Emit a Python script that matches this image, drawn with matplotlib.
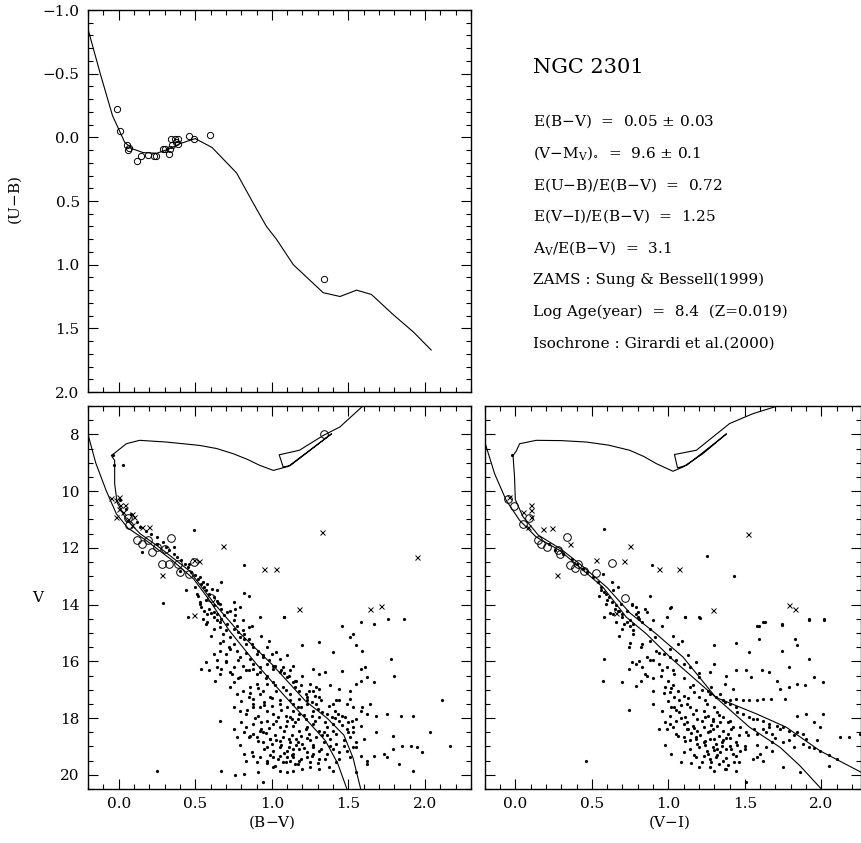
import matplotlib
matplotlib.use("Agg")
import matplotlib.pyplot as plt
from matplotlib.ticker import MultipleLocator

plt.rcParams["font.family"] = ["DejaVu Serif"]
plt.rcParams["mathtext.fontset"] = "dejavuserif"

# ---- two-colour diagram -------------------------------------------------
ub_line_bv = [-0.20, -0.12, -0.04, 0.04, 0.09, 0.16, 0.25, 0.33, 0.40, 0.50, 0.61,
              0.77, 0.88, 0.965, 1.03, 1.14, 1.335, 1.445, 1.553, 1.65, 1.79, 1.925, 2.04]
ub_line_ub = [-0.85, -0.50, -0.17, 0.04, 0.09, 0.12, 0.125, 0.09, 0.05, 0.01, 0.08,
              0.28, 0.52, 0.70, 0.80, 1.00, 1.22, 1.25, 1.20, 1.234, 1.39, 1.53, 1.67]
ub_star_bv = [-0.01, 0.007, 0.057, 0.067, 0.06, 0.12, 0.148, 0.19, 0.23, 0.246, 0.29,
              0.305, 0.33, 0.333, 0.34, 0.35, 0.366, 0.377, 0.388, 0.39, 0.462, 0.49,
              0.595, 1.342]
ub_star_ub = [-0.22, -0.05, 0.06, 0.08, 0.10, 0.185, 0.15, 0.14, 0.15, 0.15, 0.09,
              0.09, 0.13, 0.09, 0.016, 0.06, 0.01, 0.036, 0.01, 0.05, -0.01, 0.016,
              -0.016, 1.11]

# ---- V vs (B-V) ----------------------------------------------------------
zams_bv = [-0.20, -0.15, -0.08, -0.015, 0.06, 0.18, 0.35, 0.49, 0.60, 0.72, 0.90,
           1.08, 1.25, 1.35, 1.43, 1.49]
zams_bv_v = [8.0, 9.0, 10.0, 10.8, 11.3, 11.74, 12.44, 13.1, 13.9, 14.9, 16.1,
             17.2, 18.2, 18.8, 19.6, 20.5]
iso_bv = [1.58, 1.53, 1.47, 1.36, 1.22, 1.00, 0.79, 0.63, 0.46, 0.27, 0.14, 0.05,
          -0.01, -0.026, -0.026, -0.048, -0.026, 0.05, 0.137, 0.31, 0.53, 0.64, 0.747,
          0.84, 0.92, 1.01, 1.107, 1.39, 1.12, 1.074, 1.048, 1.18, 1.335, 1.444, 1.586,
          1.62]
iso_bv_v = [20.5, 19.4, 18.6, 18.0, 17.4, 16.1, 15.0, 14.0, 12.8, 12.0, 11.5, 11.0,
            10.4, 9.74, 8.92, 8.74, 8.66, 8.33, 8.21, 8.27, 8.39, 8.50, 8.68,
            8.88, 9.09, 9.27, 9.13, 7.98, 9.10, 9.15, 8.72, 8.56, 8.04, 7.74, 7.04, 6.9]

bv_circ = [0.06, 0.07, 0.12, 0.15, 0.19, 0.25, 0.22, 0.30, 0.34, 0.28, 0.33, 0.39,
           0.40, 0.49, 0.46, 0.60, 1.34]
bv_circ_v = [10.95, 11.19, 11.74, 11.86, 11.74, 11.97, 12.13, 12.03, 11.64, 12.56,
             12.56, 12.56, 12.86, 12.50, 12.91, 13.76, 7.97]
bv_cross = [-0.05, -0.02, 0.00, 0.01, 0.04, 0.00, 0.03, -0.02, 0.06, 0.09, 0.10, 0.09,
            0.15, 0.20, 0.28, 0.49, 0.525, 0.68, 0.95, 1.03, 1.18, 1.64, 1.71, 0.49,
            1.33, 1.95]
bv_cross_v = [10.25, 10.3, 10.2, 10.5, 10.5, 10.62, 10.72, 10.9, 11.0, 10.8, 10.9,
              11.2, 11.27, 11.27, 12.94, 12.44, 12.48, 11.92, 12.76, 12.76, 14.17,
              14.17, 14.06, 14.38, 11.45, 12.33]

bv_dot = [
    -0.04, -0.03, 0.03, 0.01, 0.05, 0.08, 0.12, 0.14, 0.18, 0.21, 0.25, 0.29, 0.31,
    0.33, 0.36, 0.38, 0.41, 0.43, 0.45, 0.47, 0.50, 0.52, 0.54, 0.56, 0.57, 0.59,
    0.62, 0.64, 0.66, 0.15, 0.49, 0.44, 0.50, 0.51, 0.64, 0.67, 0.75, 0.82, 0.85,
    0.82, 0.29, 1.08, 0.53, 0.62, 0.53, 0.55, 0.58, 0.61, 0.46, 0.36, 0.25, 0.40,
    0.45, 0.54, 0.56, 0.58, 0.55, 0.62, 0.64, 0.57, 0.66, 0.70, 0.75, 0.79, 0.76,
    0.73, 0.67, 0.62, 0.65, 0.69, 0.77, 0.81, 0.85, 0.82, 0.92, 1.08, 1.46, 1.53,
    1.58, 1.67, 1.76, 1.86,
    0.54, 0.62, 0.64, 0.66, 0.68, 0.70, 0.73, 0.75, 0.79, 0.77, 0.83, 0.88, 0.90,
    0.86, 0.94, 0.97, 1.00, 1.03, 1.05, 0.97, 0.92, 0.88, 0.81, 0.75, 0.70, 0.64,
    0.79, 0.85, 0.73, 1.10, 1.20, 1.31, 1.40, 1.51, 1.55, 1.59, 1.78, 1.01, 1.07,
    1.14, 1.58, 1.61, 0.57, 0.59, 0.67,
    0.63, 0.66, 0.73, 0.75, 0.79, 0.83, 0.88, 0.92, 0.97, 1.01, 1.05, 1.10, 1.12,
    1.16, 1.20, 1.25, 1.29, 1.31, 1.35, 1.27, 0.73, 0.77, 0.81, 0.86, 0.90, 0.94,
    0.99, 1.03, 1.07, 1.12, 1.18, 1.23, 1.27, 1.31, 0.85, 0.88, 0.92, 0.97, 1.01,
    1.38, 1.44, 1.51, 1.55, 1.58, 1.62, 1.67, 1.46, 1.12, 1.18, 1.23, 1.31, 1.05,
    1.14, 1.80,
    0.66, 0.75, 0.79, 0.83, 0.88, 0.92, 0.97, 1.01, 1.05, 1.10, 1.14, 1.18, 1.23,
    1.27, 1.31, 1.36, 1.40, 1.44, 1.49, 1.53, 1.58, 0.83, 0.88, 0.92, 0.97, 1.01,
    1.05, 1.10, 1.14, 1.18, 1.23, 1.27, 1.31, 1.36, 1.40, 1.44, 1.49, 1.53, 1.58,
    0.77, 0.82, 0.88, 0.94, 1.62, 1.68, 1.75, 1.84, 1.92, 1.79, 1.68, 1.64, 1.59,
    1.51, 1.42, 0.91, 0.95, 1.00, 1.04, 1.09, 1.13, 1.17, 1.22, 1.26, 1.30, 1.35,
    1.39, 1.43, 1.48, 1.52, 1.55, 1.40, 1.34,
    0.90, 0.94, 0.99, 1.03, 1.07, 1.12, 1.16, 1.20, 1.25, 1.29, 1.34, 1.38, 1.42,
    1.47, 1.51, 1.55, 1.60, 0.97, 1.01, 1.05, 1.10, 1.14, 1.18, 1.23, 1.27, 1.31,
    1.36, 1.40, 1.44, 1.49, 1.53, 1.14, 1.18, 1.23, 1.27, 1.31, 1.10, 1.05, 1.01,
    0.97, 0.92, 0.88, 0.83, 1.42, 1.51, 1.58, 1.62, 1.07, 1.12, 1.17, 1.25, 1.31,
    1.37, 1.40, 1.55, 1.62, 1.67, 1.73, 1.79, 1.85, 1.91, 1.95, 1.98, 2.16, 2.03,
    2.11, 1.92, 1.83, 1.75, 1.10, 1.14, 1.05, 1.01, 0.94, 0.91, 0.82, 0.67, 0.76,
    0.25, 0.85,
    0.53, 0.59, 0.64, 0.67, 0.71, 0.75, 0.78, 0.82, 0.87, 0.91, 0.94, 0.98, 1.02,
    1.06, 1.11, 1.15, 1.19, 1.24, 1.28, 1.32, 1.37, 1.41, 1.46, 1.50, 1.53, 1.55]
bv_dot_v = [
    8.72, 9.09, 9.09, 10.33, 10.62, 10.80, 11.09, 11.27, 11.39, 11.50, 11.62, 11.80,
    11.97, 12.09, 12.21, 12.33, 12.44, 12.56, 12.68, 12.86, 12.97, 13.09, 13.27,
    13.39, 13.50, 13.62, 13.74, 13.86, 13.97, 12.15, 11.36, 13.50, 13.39, 13.62,
    13.50, 13.21, 13.91, 13.60, 13.71, 12.60, 13.94, 14.44, 13.97, 14.27, 13.03,
    13.21, 13.27, 13.44, 12.56, 11.97, 11.86, 12.80,
    14.42, 14.09, 14.21, 14.33, 14.50, 14.44, 14.56, 14.68, 14.80, 14.91, 14.56,
    14.09, 14.38, 14.21, 14.15, 14.03, 13.95, 14.38, 14.74, 14.91, 14.80, 15.03,
    14.42, 14.42, 14.74, 15.03, 14.62, 14.68, 14.50, 14.50,
    16.27, 15.74, 15.97, 15.62, 15.27, 15.74, 15.15, 15.38, 15.85, 15.62, 15.38,
    15.50, 15.74, 15.91, 15.79, 15.50, 15.74, 15.68, 15.91, 16.09, 16.21, 16.09,
    16.15, 16.21, 16.03, 16.21, 15.15, 15.21, 15.56, 15.79, 15.44, 15.33, 15.68,
    15.15, 15.44, 15.62, 15.91, 16.15, 16.21, 16.15, 16.27, 16.21, 16.03, 16.32,
    16.27,
    16.68, 16.44, 16.38, 16.74, 16.56, 16.32, 16.27, 16.38, 16.50, 16.27, 16.38,
    16.56, 16.32, 16.68, 16.50, 16.79, 16.91, 16.44, 16.38, 16.27, 16.91, 17.15,
    17.03, 16.91, 16.79, 17.03, 17.26, 17.03, 16.91, 17.15, 17.03, 17.26, 17.03,
    16.97, 17.26, 17.32, 17.15, 16.79, 16.74, 16.85, 16.97, 17.03, 16.79, 16.68,
    16.56, 16.74, 16.35, 17.38, 17.32, 17.38, 17.26, 17.38, 16.74, 16.50,
    18.09, 17.62, 17.74, 17.85, 17.50, 17.62, 17.74, 17.85, 17.50, 17.62, 17.74,
    17.85, 17.50, 17.74, 17.97, 17.85, 17.50, 17.38, 17.50, 17.62, 17.74, 18.32,
    18.21, 18.44, 18.09, 18.21, 18.32, 18.09, 18.27, 18.44, 18.32, 18.21, 18.44,
    18.32, 18.21, 18.09, 18.38, 18.32, 18.27, 18.68, 18.50, 18.56, 18.50, 17.85,
    17.91, 17.85, 17.91, 17.91, 18.62, 18.50, 17.50, 17.62, 17.32, 17.38, 17.91,
    17.44, 17.56, 17.97, 17.91, 18.03, 17.62, 18.03, 17.91, 17.68, 18.15, 17.97,
    17.85, 17.97, 18.09, 18.03, 18.44, 18.50,
    18.68, 18.85, 18.74, 18.79, 18.68, 18.85, 18.74, 18.91, 18.79, 18.68, 18.85,
    18.74, 18.91, 18.79, 18.68, 18.85, 18.74, 19.03, 19.15, 19.03, 19.15, 19.26,
    19.09, 19.21, 19.03, 19.15, 19.26, 19.09, 19.21, 19.15, 19.03, 19.38, 19.50,
    19.38, 19.26, 19.44, 19.38, 19.32, 19.38, 19.50, 19.38, 19.32, 19.50, 19.56,
    19.38, 19.32, 19.50, 19.56, 19.50, 19.62, 19.73, 19.79, 19.73, 19.85, 19.91,
    19.62, 19.32, 19.26, 19.09, 18.97, 18.97, 19.03, 19.21, 18.97, 18.50, 17.38,
    19.85, 19.62, 19.38, 19.91, 19.85, 19.85, 19.73, 20.27, 19.91, 19.97, 19.88,
    19.99, 19.88, 18.68,
    13.91, 14.15, 14.33, 14.50, 14.68, 14.86, 14.97, 15.21, 15.38, 15.62, 15.85,
    15.97, 16.15, 16.32, 16.50, 16.68, 16.85, 17.03, 17.21, 17.38, 17.56, 17.74,
    17.91, 18.15, 18.50, 19.03]

# extra faint stars in the crowded part of the (B-V) diagram
bv_core = [0.96, 1.02, 1.08, 1.13, 1.19, 1.24, 1.06, 1.11, 1.16, 1.21, 1.00, 0.95,
           1.08, 1.13, 1.19, 1.04, 0.99, 1.26, 1.22, 1.15, 1.09, 1.03, 0.98, 0.93,
           0.89, 0.86, 0.91, 0.87, 0.84, 0.80, 0.86, 0.91, 0.95, 1.00, 1.06, 1.12,
           1.17, 1.21, 1.28, 1.33, 1.38, 1.35, 1.30, 1.44, 1.47, 1.50, 0.78, 0.74,
           0.70, 0.72, 0.68, 0.62, 0.58, 0.66, 0.83, 0.90, 0.96, 1.02, 1.09, 1.14,
           1.19, 1.26, 1.33, 1.41, 1.46, 0.97, 1.02, 1.15, 1.20, 1.25, 0.90, 0.82,
           0.79, 0.75, 0.80, 1.11, 1.05, 0.99, 1.17, 1.23, 1.27, 1.32, 1.36, 1.42,
           1.14, 1.09, 0.93, 0.88, 1.08, 1.15, 1.22, 1.29, 0.85, 0.78, 0.66, 0.60,
           0.71, 0.76, 0.81, 0.87, 0.93, 0.98, 0.60, 0.57, 0.52]
bv_core_v = [18.52, 18.61, 18.47, 18.58, 18.63, 18.55, 18.95, 19.02, 18.96, 19.07,
             18.90, 19.10, 19.22, 19.30, 19.44, 19.45, 19.30, 19.35, 18.40, 18.15,
             18.27, 18.12, 18.35, 18.15, 17.98, 18.62, 18.80, 19.20, 17.70, 17.40,
             17.10, 16.95, 17.55, 17.30, 17.70, 17.95, 18.05, 17.90, 18.10, 18.60,
             19.00, 19.45, 19.60, 19.45, 19.00, 18.50, 16.60, 16.45, 16.00, 15.50,
             15.05, 14.85, 14.60, 14.62, 15.70, 16.45, 16.60, 16.85, 17.00, 17.50,
             17.60, 17.45, 17.80, 18.00, 18.25, 19.60, 19.70, 19.62, 19.80, 19.55,
             19.55, 19.25, 18.95, 18.40, 18.15, 18.75, 18.80, 18.75, 18.85, 18.70,
             18.95, 19.10, 18.60, 18.55, 19.10, 19.55, 18.40, 17.60, 16.40, 16.90,
             17.15, 17.50, 16.30, 15.95, 15.35, 15.10, 14.25, 14.15, 14.55, 14.75,
             15.10, 15.30, 14.30, 13.85, 13.70]

# ---- V vs (V-I) ----------------------------------------------------------
zams_vi = [-0.203, -0.135, -0.059, 0.028, 0.137, 0.29, 0.42, 0.573, 0.725, 0.856,
           1.02, 1.31, 1.53, 1.73, 1.86, 2.0]
zams_vi_v = [8.21, 9.39, 10.33, 11.03, 11.62, 12.09, 12.68, 13.39, 14.44, 15.03,
             15.9, 17.27, 18.32, 19.03, 19.68, 20.5]
iso_vi = [2.26, 1.99, 1.77, 1.575, 1.31, 1.096, 0.92, 0.75, 0.60, 0.44, 0.30, 0.15,
          0.05, 0.0, -0.005, -0.015, 0.005, 0.028, 0.137, 0.30, 0.464, 0.61, 0.747,
          0.84, 0.921, 1.03, 1.096, 1.226, 1.38, 1.12, 1.06, 1.04, 1.183, 1.40, 1.553,
          1.69, 1.74]
iso_vi_v = [19.91, 19.15, 18.32, 17.85, 17.27, 15.85, 15.03, 14.3, 13.4, 12.65,
            12.05, 11.55, 10.9, 10.3, 9.5, 8.74, 8.6, 8.33, 8.21, 8.22, 8.27, 8.38,
            8.56, 8.78, 9.03, 9.30, 9.15, 8.68, 7.98, 9.09, 9.18, 8.71, 8.56, 7.62,
            7.27, 7.04, 6.9]

vi_circ = [-0.05, -0.01, 0.05, 0.09, 0.15, 0.17, 0.21, 0.28, 0.29, 0.34, 0.36, 0.39,
           0.41, 0.45, 0.53, 0.63, 0.72]
vi_circ_v = [10.27, 10.54, 11.15, 10.95, 11.74, 11.86, 11.97, 12.07, 12.20, 11.62,
             12.59, 12.71, 12.56, 12.80, 12.89, 12.53, 13.76]
vi_cross = [-0.04, 0.10, 0.10, 0.10, 0.05, 0.08, 0.18, 0.24, 0.36, 0.75, 0.53, 0.71,
            0.94, 1.07, 0.27, 1.52, 1.29, 1.79, 1.83, 0.66]
vi_cross_v = [10.21, 10.5, 10.68, 10.92, 10.74, 11.27, 11.33, 11.30, 11.86, 11.92,
              12.44, 12.48, 12.74, 12.74, 12.94, 11.50, 14.18, 14.03, 14.17, 14.3]

vi_dot = [
    -0.02, 0.58, 1.25, 1.43, 0.89, 0.88, 1.01, 0.99, 1.11, 1.21, 1.59, 1.62, 1.74,
    1.92, 2.02, 0.58, 0.56, 0.63, 0.64, 0.67, 0.59, 0.69, 0.65, 0.73, 0.75, 0.77,
    0.80, 0.86, 0.83, 0.76, 0.79, 0.70, 0.57,
    0.22, 0.26, 0.31, 0.37, 0.40, 0.44, 0.47, 0.51, 0.54, 0.56, 0.58, 0.61, 0.63,
    0.66, 0.68, 0.70,
    0.59, 0.64, 0.67, 0.71, 0.75, 0.77, 0.79, 0.76, 0.81, 0.88, 0.91, 0.88, 1.02,
    1.11, 1.20, 1.58, 1.63, 1.74, 1.92, 2.02, 1.30, 1.44, 1.53, 1.59, 1.83, 1.84,
    1.74,
    0.74, 0.83, 0.92, 0.97, 1.01, 1.05, 1.10, 0.86, 0.90, 0.94, 0.99, 1.03, 0.79,
    0.83, 0.76, 0.58, 0.74, 1.14, 1.18, 1.13, 1.06, 1.01, 1.30, 1.38, 1.44, 1.51,
    1.54, 1.61, 1.66, 1.71, 1.79, 1.92, 1.95, 1.84, 2.01, 1.20, 1.27, 1.26,
    0.57, 0.70, 0.79, 0.90, 0.82, 0.86, 0.95, 1.00, 1.03, 1.06, 1.10, 0.98, 1.01,
    1.04, 1.07, 1.12, 1.14, 1.17, 1.20, 1.24, 1.27, 1.31, 1.36, 1.40, 1.44, 1.49,
    1.53, 1.58, 1.62, 1.67, 1.76, 1.79, 1.89, 1.73, 1.37, 1.42, 0.90, 0.74,
    0.96, 1.01, 1.04, 1.07, 1.11, 1.14, 1.16, 1.19, 1.23, 1.26, 1.29, 1.32, 1.36,
    1.39, 1.42, 1.10, 1.13, 1.16, 1.19, 1.23, 1.26, 1.29, 1.32, 1.36, 1.39, 1.01,
    1.03, 1.05, 0.99, 1.49, 1.53, 1.58, 1.62, 1.66, 1.71, 1.75, 1.79, 1.84, 1.88,
    1.47, 1.51, 1.56, 1.64, 1.68, 1.73, 1.90, 1.95, 1.99, 2.01, 2.12, 2.18, 2.25,
    1.84, 1.44,
    1.05, 1.10, 1.14, 1.18, 1.23, 1.27, 1.31, 1.36, 1.40, 1.44, 1.20, 1.25, 1.29,
    1.34, 1.38, 1.42, 1.47, 1.23, 1.27, 1.31, 1.36, 1.18, 1.27, 1.30, 1.38, 1.44,
    1.51, 1.58, 1.64, 1.68, 1.75, 1.86, 1.99, 2.05, 1.88, 1.92, 1.97, 1.79, 1.82,
    1.62, 0.46]
vi_dot_v = [
    8.74, 11.35, 12.29, 13.00, 12.60, 13.70, 14.11, 14.42, 14.42, 14.47, 14.77,
    14.62, 14.71, 14.53, 14.53, 14.44, 13.50, 13.21, 13.50, 13.39, 13.62, 13.97,
    14.15, 14.21, 14.56, 14.68, 14.44, 14.27, 14.62, 13.97, 14.09, 14.44, 12.91,
    11.86, 12.09, 12.21, 12.39, 12.56, 12.74, 12.86, 13.03, 13.21, 13.39, 13.56,
    13.74, 13.91, 14.03, 14.21, 14.33,
    13.97, 14.33, 14.21, 14.68, 14.74, 14.91, 14.33, 14.03, 14.50, 14.86, 15.15,
    15.27, 14.09, 14.42, 14.44, 14.74, 14.62, 14.70, 14.50, 14.50, 15.44, 15.35,
    15.68, 15.21, 15.21, 15.44, 15.62,
    15.50, 15.38, 15.62, 15.74, 15.85, 15.97, 16.09, 15.85, 15.97, 16.09, 16.21,
    16.32, 16.09, 16.21, 16.03, 15.91, 16.27, 16.21, 16.03, 15.79, 15.38, 15.56,
    16.09, 16.50, 16.32, 16.32, 16.56, 16.32, 16.38, 16.68, 16.21, 15.91, 16.56,
    16.79, 16.74, 16.56, 16.38, 17.03,
    16.68, 16.74, 16.86, 17.03, 16.68, 16.50, 16.50, 16.68, 16.85, 17.03, 17.21,
    16.91, 17.09, 17.26, 17.38, 17.50, 16.91, 17.09, 17.26, 17.38, 17.15, 17.26,
    17.38, 17.38, 17.32, 17.38, 17.38, 17.38, 17.32, 17.32, 17.32, 16.91, 16.85,
    16.97, 16.79, 16.97, 17.50, 17.73,
    17.74, 17.91, 17.62, 17.79, 17.97, 17.62, 17.85, 18.03, 17.74, 17.91, 18.09,
    17.79, 17.97, 18.15, 18.32, 18.21, 18.38, 18.27, 18.44, 18.32, 18.50, 18.38,
    18.27, 18.44, 18.56, 18.21, 18.32, 18.09, 18.38, 17.85, 17.97, 18.03, 18.09,
    18.21, 18.27, 18.32, 18.44, 18.50, 18.56, 18.32, 18.50, 18.38, 18.50, 18.56,
    18.38, 17.85, 18.15, 18.32, 17.85, 18.68, 18.68, 18.56, 17.91, 17.62,
    18.56, 18.68, 18.79, 18.68, 18.85, 18.74, 18.91, 18.79, 18.97, 18.85, 19.03,
    19.15, 19.03, 19.21, 19.09, 19.26, 19.15, 19.32, 19.44, 19.38, 19.50, 19.38,
    19.73, 19.85, 19.79, 19.85, 20.27, 19.38, 19.03, 18.85, 19.73, 19.91, 19.15,
    19.68, 18.91, 19.03, 18.79, 18.79, 19.03, 19.50, 19.50]

# extra faint stars in the crowded part of the (V-I) diagram
vi_core = [1.15, 1.21, 1.27, 1.33, 1.38, 1.24, 1.30, 1.35, 1.41, 1.19, 1.14, 1.26,
           1.32, 1.38, 1.22, 1.17, 1.44, 1.41, 1.34, 1.28, 1.22, 1.17, 1.12, 1.08,
           1.06, 1.11, 1.10, 1.05, 1.00, 0.97, 1.02, 1.08, 1.13, 1.18, 1.24, 1.29,
           1.33, 1.40, 1.46, 1.50, 1.46, 1.39, 1.55, 1.58, 1.62, 0.90, 0.85, 0.81,
           0.82, 0.77, 0.70, 0.66, 0.73, 0.94, 1.04, 1.10, 1.16, 1.22, 1.25, 1.30,
           1.37, 1.45, 1.55, 1.66, 1.15, 1.20, 1.33, 1.37, 1.43, 1.08, 1.02, 0.98,
           0.94, 0.98, 1.30, 1.24, 1.18, 1.35, 1.40, 1.45, 1.50, 1.52, 1.58, 1.32,
           1.28, 1.12, 1.02, 1.20, 1.28, 1.34, 1.40, 0.96, 0.88, 0.75, 0.68, 0.80,
           0.85, 0.90, 0.96, 1.03, 1.09, 0.62, 0.60, 0.55, 1.70, 1.75, 1.82, 1.90,
           1.95, 2.05, 2.10, 1.68, 1.60]
vi_core_v = [18.52, 18.60, 18.47, 18.62, 18.70, 18.95, 19.12, 19.00, 19.08, 18.90,
             19.10, 19.25, 19.30, 19.42, 19.55, 19.30, 19.35, 18.40, 18.15, 18.25,
             18.12, 18.35, 18.15, 17.98, 18.62, 18.80, 19.20, 17.70, 17.40, 17.10,
             16.95, 17.55, 17.30, 17.70, 17.95, 18.05, 17.90, 18.10, 18.60, 19.00,
             19.55, 19.65, 19.45, 18.95, 18.40, 16.60, 16.45, 16.00, 15.50, 15.05,
             14.85, 14.60, 14.62, 15.70, 16.45, 16.60, 16.85, 17.00, 17.50, 17.60,
             17.45, 17.80, 18.05, 18.30, 19.60, 19.72, 19.62, 19.80, 19.55, 19.55,
             19.25, 18.95, 18.40, 18.15, 18.75, 18.80, 18.75, 18.85, 18.70, 18.95,
             19.10, 18.60, 18.55, 19.10, 19.55, 18.40, 17.60, 16.40, 16.90, 17.15,
             17.50, 16.30, 15.95, 15.35, 15.10, 14.25, 14.15, 14.55, 14.75, 15.10,
             15.30, 14.30, 13.85, 13.70, 18.70, 18.85, 18.60, 18.75, 19.05, 19.30,
             19.45, 19.15, 19.25]

info_lines = [
    r"E(B$-$V)  =  0.05 $\pm$ 0.03",
    r"(V$-$M$_{\rm V}$)$_{\circ}$  =  9.6 $\pm$ 0.1",
    r"E(U$-$B)/E(B$-$V)  =  0.72",
    r"E(V$-$I)/E(B$-$V)  =  1.25",
    r"A$_{\rm V}$/E(B$-$V)  =  3.1",
    "ZAMS : Sung & Bessell(1999)",
    "Log Age(year)  =  8.4  (Z=0.019)",
    "Isochrone : Girardi et al.(2000)",
]

W, H = 861, 843
fig = plt.figure(figsize=(W / 100, H / 100), dpi=100)


def box(l, t, r, b):
    return [l / W, 1 - b / H, (r - l) / W, (b - t) / H]


ax_ub = fig.add_axes(box(88, 10, 471, 392))
ax_bv = fig.add_axes(box(88, 406, 471, 789))
ax_vi = fig.add_axes(box(484.7, 406, 861, 789))


def style(ax, xmaj, xmin, ymaj, ymin):
    ax.xaxis.set_major_locator(MultipleLocator(xmaj))
    ax.xaxis.set_minor_locator(MultipleLocator(xmin))
    ax.yaxis.set_major_locator(MultipleLocator(ymaj))
    ax.yaxis.set_minor_locator(MultipleLocator(ymin))
    ax.tick_params(which="both", direction="in", top=True, right=True,
                   labelsize=11, pad=6, width=0.8)
    ax.tick_params(which="major", length=7)
    ax.tick_params(which="minor", length=3.5)
    for s in ax.spines.values():
        s.set_linewidth(1.0)


lw = 0.8
ax_ub.plot(ub_line_bv, ub_line_ub, color="black", lw=lw)
ax_ub.plot(ub_star_bv, ub_star_ub, "o", mfc="none", mec="black", ms=4.5, mew=0.7)
ax_ub.set_xlim(-0.2, 2.3)
ax_ub.set_ylim(2.0, -1.0)
style(ax_ub, 0.5, 0.1, 0.5, 0.1)
ax_ub.tick_params(labelbottom=False)
ax_ub.yaxis.set_major_formatter(plt.FuncFormatter(lambda v, p: f"{v:.1f}".replace("-", "\u2212")))

for ax, zx, zy, ix, iy, cx, cy, kx, ky, dx, dy in [
        (ax_bv, zams_bv, zams_bv_v, iso_bv, iso_bv_v, bv_circ, bv_circ_v,
         bv_cross, bv_cross_v, bv_dot + bv_core, bv_dot_v + bv_core_v),
        (ax_vi, zams_vi, zams_vi_v, iso_vi, iso_vi_v, vi_circ, vi_circ_v,
         vi_cross, vi_cross_v, vi_dot + vi_core, vi_dot_v + vi_core_v)]:
    ax.plot(zx, zy, color="black", lw=lw)
    ax.plot(ix, iy, color="black", lw=lw)
    ax.plot(dx, dy, "o", color="black", ms=2.3, mew=0)
    ax.plot(cx, cy, "o", mfc="none", mec="black", ms=5.5, mew=0.7)
    ax.plot(kx, ky, "x", color="black", ms=3.6, mew=0.7)
    ax.set_ylim(20.5, 7.0)
    style(ax, 0.5, 0.1, 2, 0.5)
    ax.xaxis.set_major_formatter(plt.FuncFormatter(lambda v, p: f"{v:.1f}"))

ax_bv.set_xlim(-0.2, 2.3)
ax_vi.set_xlim(-0.2, 2.259)
ax_vi.tick_params(labelleft=False)

fig.text(15 / W, 1 - 200 / H, "(U$-$B)", rotation=90, ha="center", va="center", fontsize=11)
fig.text(38 / W, 1 - 598 / H, "V", ha="center", va="center", fontsize=11)
fig.text(272 / W, 1 - 822 / H, "(B$-$V)", ha="center", va="center", fontsize=11)
fig.text(669 / W, 1 - 822 / H, "(V$-$I)", ha="center", va="center", fontsize=11)

fig.text(533 / W, 1 - 73 / H, "NGC 2301", fontsize=15, va="baseline")
for i, s in enumerate(info_lines):
    fig.text(533 / W, 1 - (126 + 31.6 * i) / H, s, fontsize=11, va="baseline")

fig.savefig("out.png", dpi=100)
